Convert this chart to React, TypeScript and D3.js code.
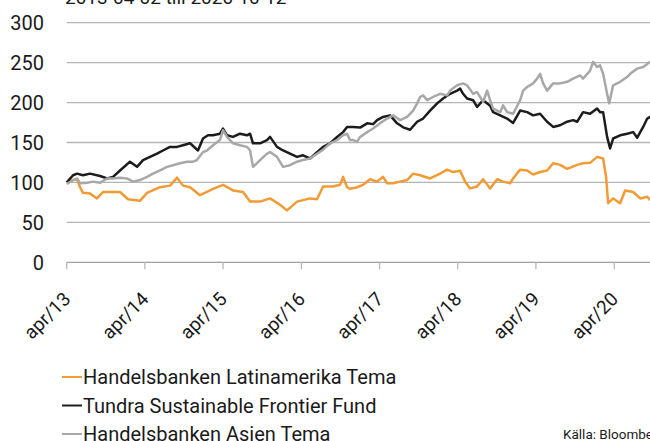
import React from "react";
import * as d3 from "d3";

const W = 650;
const H = 441;

const title = "2013-04-02 till 2020-10-12";
const source = "Källa: Bloomberg";
const seriesNames = [
  "Handelsbanken Latinamerika Tema",
  "Tundra Sustainable Frontier Fund",
  "Handelsbanken Asien Tema",
];
const seriesColors = ["#f29b35", "#1c1c1c", "#a8a8a8"];
const yTicks = [0, 50, 100, 150, 200, 250, 300];
const xTickDates = [
  "2013-04-02", "2014-04-02", "2015-04-02", "2016-04-02",
  "2017-04-02", "2018-04-02", "2019-04-02", "2020-04-02",
];
const xTickLabels = ["apr/13", "apr/14", "apr/15", "apr/16", "apr/17", "apr/18", "apr/19", "apr/20"];
const startDate = "2013-04-02";
const endDate = "2020-10-12";

// [decimal year, index value]
const latam: [number, number][] = [
  [2013.25, 100], [2013.331, 103], [2013.382, 104], [2013.42, 94], [2013.458, 87],
  [2013.548, 86], [2013.637, 80], [2013.714, 88], [2013.804, 88], [2013.932, 88],
  [2014.034, 79], [2014.187, 77], [2014.277, 87], [2014.443, 94], [2014.571, 96],
  [2014.661, 106], [2014.737, 96], [2014.827, 94], [2014.955, 84], [2015.083, 90],
  [2015.121, 92], [2015.249, 97], [2015.377, 90], [2015.505, 88], [2015.595, 76],
  [2015.723, 76], [2015.851, 80], [2015.978, 72], [2016.068, 65], [2016.196, 76],
  [2016.362, 80], [2016.451, 79], [2016.528, 95], [2016.655, 95], [2016.745, 97],
  [2016.783, 107], [2016.834, 94], [2016.873, 92], [2016.962, 94], [2017.039, 97],
  [2017.128, 104], [2017.218, 101], [2017.294, 107], [2017.346, 99], [2017.423, 99],
  [2017.512, 101], [2017.602, 103], [2017.679, 111], [2017.768, 109], [2017.896, 105],
  [2018.024, 111], [2018.113, 116], [2018.19, 113], [2018.28, 114.5], [2018.344, 101],
  [2018.408, 92.5], [2018.497, 95], [2018.574, 104], [2018.664, 92.5], [2018.753, 104],
  [2018.83, 101], [2018.92, 99], [2018.958, 105], [2019.048, 116], [2019.137, 115],
  [2019.214, 110], [2019.303, 113], [2019.393, 115], [2019.47, 124], [2019.559, 122],
  [2019.649, 117], [2019.777, 122], [2019.853, 124], [2019.943, 124.5], [2020.032, 132],
  [2020.109, 130], [2020.147, 107], [2020.173, 74], [2020.237, 80], [2020.326, 74],
  [2020.39, 90], [2020.493, 88], [2020.582, 80], [2020.672, 82], [2020.71, 78],
  [2020.78, 77],
];

const tundra: [number, number][] = [
  [2013.25, 100], [2013.331, 109], [2013.382, 111], [2013.458, 109], [2013.548, 111],
  [2013.676, 108], [2013.765, 105], [2013.842, 107], [2013.932, 115], [2014.059, 126],
  [2014.149, 119.5], [2014.226, 128], [2014.315, 132], [2014.405, 136], [2014.481, 140],
  [2014.571, 144.5], [2014.661, 144.5], [2014.737, 146.6], [2014.827, 149], [2014.929, 140],
  [2014.993, 155], [2015.057, 159], [2015.121, 159], [2015.21, 161], [2015.249, 167.5],
  [2015.3, 159], [2015.377, 157], [2015.466, 161], [2015.556, 159], [2015.595, 161],
  [2015.633, 149], [2015.723, 149], [2015.812, 153], [2015.851, 157], [2015.94, 144.5],
  [2016.017, 140], [2016.106, 136], [2016.196, 132], [2016.272, 134], [2016.362, 130],
  [2016.451, 138], [2016.528, 144.5], [2016.617, 149], [2016.707, 157], [2016.783, 163],
  [2016.834, 169.5], [2016.911, 169.5], [2017.001, 168.7], [2017.09, 174], [2017.167, 173],
  [2017.218, 178], [2017.294, 182], [2017.384, 184], [2017.474, 174], [2017.551, 169],
  [2017.64, 166], [2017.73, 176], [2017.806, 180], [2017.896, 190], [2017.986, 199],
  [2018.062, 205], [2018.152, 211], [2018.241, 215], [2018.28, 217.5], [2018.318, 211],
  [2018.369, 205], [2018.446, 203], [2018.497, 194.5], [2018.574, 203], [2018.664, 196],
  [2018.702, 188], [2018.792, 184], [2018.881, 180], [2018.958, 174.5], [2019.048, 190],
  [2019.137, 188], [2019.214, 184], [2019.303, 186], [2019.393, 176], [2019.47, 169.5],
  [2019.559, 171.6], [2019.649, 176], [2019.726, 178], [2019.777, 176], [2019.853, 188],
  [2019.943, 186], [2020.032, 192.5], [2020.07, 188], [2020.109, 188], [2020.16, 157],
  [2020.198, 142.5], [2020.237, 155], [2020.326, 159], [2020.416, 161], [2020.493, 163],
  [2020.544, 156], [2020.62, 169.5], [2020.672, 180], [2020.71, 182], [2020.78, 184],
];

const asien: [number, number][] = [
  [2013.25, 98], [2013.331, 103], [2013.382, 105], [2013.42, 99], [2013.51, 99.5],
  [2013.586, 101], [2013.676, 99.5], [2013.765, 105], [2013.842, 105], [2013.932, 106],
  [2014.021, 105], [2014.098, 101], [2014.187, 103], [2014.277, 107], [2014.354, 111],
  [2014.443, 115], [2014.533, 119.5], [2014.609, 121.6], [2014.699, 124], [2014.788, 126],
  [2014.865, 126], [2014.916, 128], [2014.993, 138], [2015.044, 140], [2015.121, 146.6],
  [2015.21, 153], [2015.249, 165.4], [2015.3, 157], [2015.377, 149], [2015.466, 146.6],
  [2015.556, 144.5], [2015.595, 140], [2015.633, 119.5], [2015.723, 128], [2015.812, 136],
  [2015.851, 138], [2015.94, 132], [2016.017, 119.5], [2016.106, 121.6], [2016.196, 126],
  [2016.272, 128], [2016.362, 130], [2016.451, 136], [2016.528, 141], [2016.617, 149],
  [2016.707, 153], [2016.783, 159], [2016.834, 161], [2016.873, 153], [2016.911, 153],
  [2016.962, 151], [2017.001, 157], [2017.09, 163], [2017.167, 167.5], [2017.256, 174],
  [2017.346, 180], [2017.423, 184], [2017.512, 178], [2017.602, 182], [2017.679, 190],
  [2017.73, 199], [2017.768, 207], [2017.806, 209], [2017.858, 203], [2017.934, 207],
  [2018.024, 211], [2018.113, 209], [2018.152, 215], [2018.241, 221.6], [2018.318, 224],
  [2018.369, 221.6], [2018.446, 211], [2018.497, 213], [2018.574, 201], [2018.625, 215],
  [2018.664, 203], [2018.702, 192.5], [2018.792, 188], [2018.83, 196.6], [2018.881, 188],
  [2018.958, 186], [2019.048, 203], [2019.086, 215], [2019.137, 219.5], [2019.214, 224],
  [2019.265, 230], [2019.303, 236], [2019.342, 224], [2019.393, 215], [2019.47, 224],
  [2019.559, 224], [2019.649, 226], [2019.726, 230], [2019.815, 234], [2019.853, 230],
  [2019.943, 240], [2019.981, 251], [2020.032, 244.5], [2020.07, 246.6], [2020.109, 236],
  [2020.16, 211], [2020.186, 199], [2020.237, 221.6], [2020.326, 226], [2020.416, 232],
  [2020.454, 236], [2020.544, 242.5], [2020.62, 244.5], [2020.71, 251], [2020.78, 254],
];

const seriesData = [latam, tundra, asien];

function decToDate(d: number): Date {
  const y = Math.floor(d);
  const s = Date.UTC(y, 0, 1);
  const e = Date.UTC(y + 1, 0, 1);
  return new Date(s + (d - y) * (e - s));
}

const FONT = "Roboto, 'DejaVu Sans', sans-serif";

export default function App() {
  const x = d3
    .scaleUtc()
    .domain([new Date(startDate), new Date(endDate)])
    .range([66.7, 655.6]);
  const y = d3.scaleLinear().domain([0, 300]).range([262.3, 22.7]);

  const line = d3
    .line<[number, number]>()
    .x((d) => x(decToDate(d[0])))
    .y((d) => y(d[1]));

  const legendY = [377, 405.5, 434];

  return (
    <svg
      width={W}
      height={H}
      style={{ position: "absolute", left: 0, top: 0, background: "#fff" }}
      fontFamily={FONT}
    >
      <text x={65} y={3.5} fontSize={19} fill="#1a1a1a">
        {title}
      </text>
      {yTicks.map((t) => (
        <g key={t}>
          {t > 0 && (
            <line x1={66.7} x2={W} y1={y(t)} y2={y(t)} stroke="#b4b4b4" strokeWidth={1.3} />
          )}
          <text x={44} y={y(t)} dy="0.36em" textAnchor="end" fontSize={20} fill="#1a1a1a">
            {t}
          </text>
        </g>
      ))}
      <line x1={66.7} x2={W} y1={y(0)} y2={y(0)} stroke="#a0a0a0" strokeWidth={1.3} />
      {xTickDates.map((d, i) => {
        const xx = x(new Date(d));
        return (
          <g key={d}>
            <line x1={xx} x2={xx} y1={y(0)} y2={y(0) + 7} stroke="#b8b8b8" strokeWidth={1.3} />
            <text
              transform={`translate(${xx + 5},${y(0) + 38}) rotate(-45)`}
              textAnchor="end"
              fontSize={19}
              fill="#1a1a1a"
            >
              {xTickLabels[i]}
            </text>
          </g>
        );
      })}
      {seriesData.map((s, i) => (
        <path
          key={i}
          d={line(s) || ""}
          fill="none"
          stroke={seriesColors[i]}
          strokeWidth={2.5}
          strokeLinejoin="round"
        />
      ))}
      {seriesNames.map((n, i) => (
        <g key={n}>
          <line
            x1={62}
            x2={82}
            y1={legendY[i]}
            y2={legendY[i]}
            stroke={seriesColors[i]}
            strokeWidth={2}
          />
          <text x={83} y={legendY[i]} dy="0.36em" fontSize={20} fill="#1a1a1a">
            {n}
          </text>
        </g>
      ))}
      <text x={563} y={434} dy="0.36em" fontSize={13.5} fill="#1a1a1a">
        {source}
      </text>
    </svg>
  );
}
